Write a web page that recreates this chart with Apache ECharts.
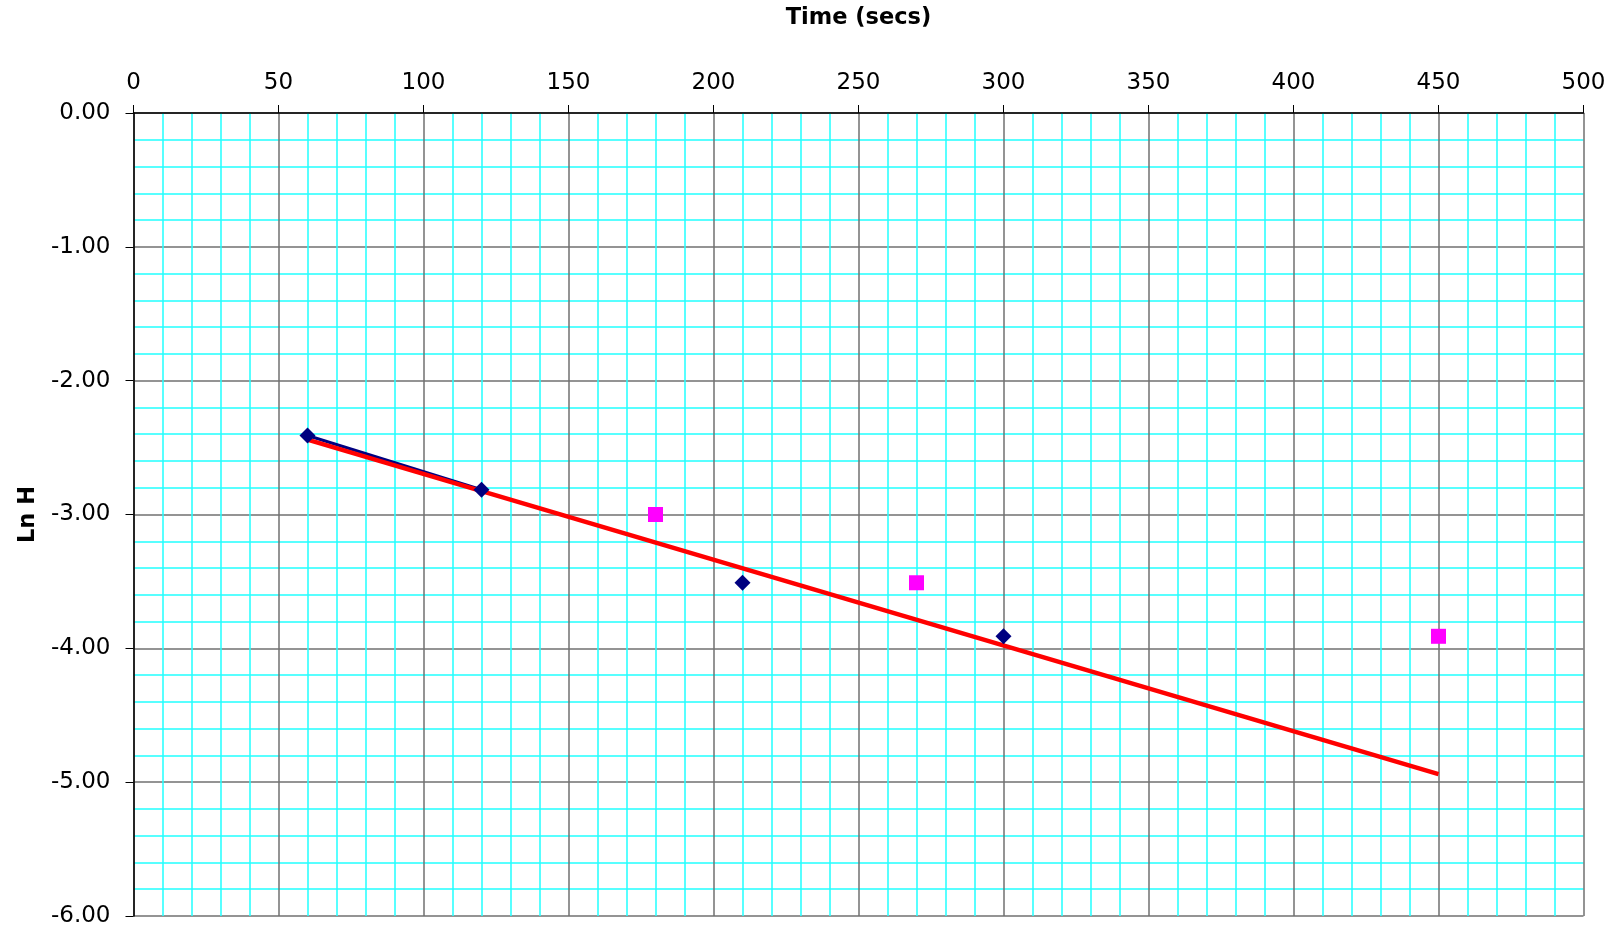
<!DOCTYPE html>
<html>
<head>
<meta charset="utf-8">
<title>Ln H vs Time</title>
<script src="https://cdn.jsdelivr.net/npm/echarts@6/dist/echarts.min.js"></script>
<style>
  html, body { margin: 0; padding: 0; background: #fff; }
  #chart { width: 1613px; height: 934px; }
</style>
</head>
<body>
<div id="chart"></div>
<script>
// measured points (navy diamonds)
var blueTimes = [60, 120, 210, 300];
var blueLnH = [-2.41, -2.815, -3.51, -3.91];
// pink squares
var pinkTimes = [180, 270, 450];
var pinkLnH = [-3.0, -3.51, -3.91];
// red fit line ends
var fitTimes = [60, 450];
var fitLnH = [-2.44, -4.94];

function pairs(xs, ys) {
  var out = [];
  for (var i = 0; i < xs.length; i++) out.push([xs[i], ys[i]]);
  return out;
}

var chart = echarts.init(document.getElementById('chart'));
var font = 'DejaVu Sans, Liberation Sans, sans-serif';

var option = {
  animation: false,
  backgroundColor: '#ffffff',
  grid: {
    left: 133.5, top: 113, right: 29.5, bottom: 18,
    containLabel: false,
    outerBoundsMode: 'none'
  },
  xAxis: {
    type: 'value',
    position: 'top',
    min: 0, max: 500, interval: 50,
    name: 'Time (secs)',
    nameLocation: 'middle',
    nameGap: 83,
    nameTextStyle: { fontFamily: font, fontSize: 22.5, fontWeight: 'bold', color: '#000' },
    axisLine: { show: true, onZero: false, lineStyle: { color: '#000', width: 1.5 } },
    axisTick: { show: true, inside: false, length: 8, lineStyle: { color: '#000' } },
    axisLabel: { fontFamily: font, fontSize: 23, color: '#000', margin: 18 },
    splitLine: { show: true, lineStyle: { color: '#707070', width: 1.5 } },
    minorTick: { show: false, splitNumber: 5 },
    minorSplitLine: { show: true, lineStyle: { color: '#22ffff', width: 1.5 } }
  },
  yAxis: {
    type: 'value',
    min: -6, max: 0, interval: 1,
    name: 'Ln H',
    nameLocation: 'middle',
    nameGap: 94,
    nameRotate: 90,
    nameTextStyle: { fontFamily: font, fontSize: 22.5, fontWeight: 'bold', color: '#000' },
    axisLine: { show: true, onZero: false, lineStyle: { color: '#000', width: 1.5 } },
    axisTick: { show: true, inside: false, length: 8, lineStyle: { color: '#000' } },
    axisLabel: {
      fontFamily: font, fontSize: 23, color: '#000', margin: 23,
      formatter: function (v) { return v.toFixed(2); }
    },
    splitLine: { show: true, lineStyle: { color: '#707070', width: 1.5 } },
    minorTick: { show: false, splitNumber: 5 },
    minorSplitLine: { show: true, lineStyle: { color: '#22ffff', width: 1.5 } }
  },
  series: [
    {
      name: 'blue line',
      type: 'line',
      data: pairs(blueTimes.slice(0, 2), blueLnH.slice(0, 2)),
      symbol: 'none',
      lineStyle: { color: '#000080', width: 3 },
      z: 2
    },
    {
      name: 'fit',
      type: 'line',
      data: pairs(fitTimes, fitLnH),
      symbol: 'none',
      lineStyle: { color: '#ff0000', width: 4.5 },
      z: 3
    },
    {
      name: 'blue points',
      type: 'scatter',
      data: pairs(blueTimes, blueLnH),
      symbol: 'diamond',
      symbolSize: 16,
      itemStyle: { color: '#000080', opacity: 1 },
      z: 4
    },
    {
      name: 'pink points',
      type: 'scatter',
      data: pairs(pinkTimes, pinkLnH),
      symbol: 'rect',
      symbolSize: 15,
      itemStyle: { color: '#ff00ff', opacity: 1 },
      z: 4
    }
  ]
};

chart.setOption(option);
</script>
</body>
</html>
